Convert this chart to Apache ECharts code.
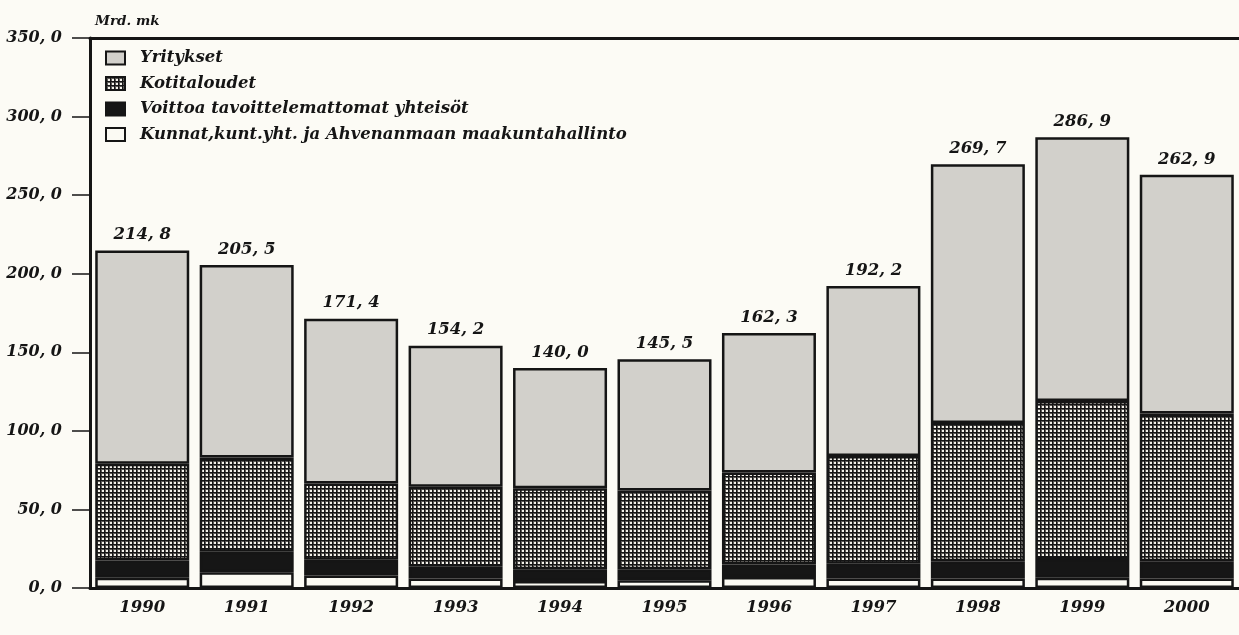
<!DOCTYPE html>
<html>
<head>
<meta charset="utf-8">
<script src="https://cdn.jsdelivr.net/npm/echarts@6/dist/echarts.min.js"></script>
<style>
  html, body { margin: 0; padding: 0; background: #fcfbf5; }
  #chart-container { width: 1239px; height: 635px; }
</style>
</head>
<body>
<div id="chart-container"></div>
<script>
// vuodet
var years = ['1990','1991','1992','1993','1994','1995','1996','1997','1998','1999','2000'];
// Mrd. mk, pinottu alhaalta ylös
var kunnat     = [6.5, 10, 8, 6, 4.5, 5, 7, 6, 6, 6.5, 6];
var voittoa    = [11, 13, 10, 7.5, 7.5, 7, 8, 9.5, 11, 12, 11];
var kotitalous = [61.5, 60, 48.5, 51, 51.5, 50, 58.5, 68.5, 88, 100.5, 94];
var yritykset  = [135.8, 122.5, 104.9, 89.7, 76.5, 83.5, 88.8, 108.2, 164.7, 167.9, 151.9];
var totals     = [214.8, 205.5, 171.4, 154.2, 140.0, 145.5, 162.3, 192.2, 269.7, 286.9, 262.9];
var yTicks     = [0, 50, 100, 150, 200, 250, 300, 350];

var names = ['Yritykset', 'Kotitaloudet', 'Voittoa tavoittelemattomat yhteisöt',
             'Kunnat,kunt.yht. ja Ahvenanmaan maakuntahallinto'];

function fi(v) { return v.toFixed(1).replace('.', ', '); }

// ruudukkokuvio kotitalouksille
var cv = document.createElement('canvas');
cv.width = 4; cv.height = 4;
var cx = cv.getContext('2d');
cx.fillStyle = '#f3f1ea'; cx.fillRect(0, 0, 4, 4);
cx.fillStyle = '#5a5855'; cx.fillRect(0, 1, 4, 1); cx.fillRect(1, 0, 1, 4);
cx.fillStyle = '#151515'; cx.fillRect(0, 0, 4, 1); cx.fillRect(0, 0, 1, 4);

var font = { fontFamily: 'DejaVu Serif', fontStyle: 'italic', fontWeight: 'bold', color: '#151515' };
var border = { borderColor: '#151515', borderWidth: 2.5 };

var myChart = echarts.init(document.getElementById('chart-container'));

var option = {
  backgroundColor: '#fcfbf5',
  animation: false,
  title: {
    text: 'Mrd. mk', left: 90, top: 9,
    textStyle: Object.assign({}, font, { fontSize: 13.5 })
  },
  legend: {
    data: names, orient: 'vertical', left: 100, top: 44,
    icon: 'rect', itemWidth: 19, itemHeight: 13, itemGap: 7.5,
    itemStyle: { borderColor: '#151515', borderWidth: 2 },
    textStyle: Object.assign({}, font, { fontSize: 16.5, lineHeight: 18, padding: [0, 0, 0, 10] })
  },
  grid: { left: 90, right: 0, top: 38, bottom: 47 },
  xAxis: [{
    type: 'category', data: years,
    axisLine: { lineStyle: { color: '#151515', width: 3 } },
    axisTick: { alignWithLabel: true, length: 10, lineStyle: { width: 1.5 } },
    axisLabel: Object.assign({}, font, { fontSize: 16.5, margin: 11 })
  }, {
    type: 'category', data: years, position: 'top',
    axisLine: { lineStyle: { color: '#151515', width: 3 } },
    axisTick: { show: false }, axisLabel: { show: false }
  }],
  yAxis: {
    type: 'value', min: 0, max: 350, interval: 50,
    axisLine: { show: true, lineStyle: { color: '#151515', width: 3 } },
    axisTick: { show: true, length: 18, lineStyle: { width: 1.5 } },
    splitLine: { show: false },
    axisLabel: Object.assign({}, font, { fontSize: 16, margin: 28,
      formatter: function (v) { return yTicks.indexOf(v) >= 0 ? fi(v) : ''; } })
  },
  series: [
    { name: names[3], type: 'bar', stack: 'a', data: kunnat, barCategoryGap: '10%',
      itemStyle: Object.assign({ color: '#fbfaf3' }, border) },
    { name: names[2], type: 'bar', stack: 'a', data: voittoa,
      itemStyle: Object.assign({ color: '#161616' }, border) },
    { name: names[1], type: 'bar', stack: 'a', data: kotitalous,
      itemStyle: Object.assign({ color: { image: cv, repeat: 'repeat' } }, border) },
    { name: names[0], type: 'bar', stack: 'a', data: yritykset,
      itemStyle: Object.assign({ color: '#d2d0cb' }, border),
      label: Object.assign({ show: true, position: 'top', distance: 7, fontSize: 16.5,
        formatter: function (p) { return fi(totals[p.dataIndex]); } }, font) }
  ]
};

myChart.setOption(option);
</script>
</body>
</html>
